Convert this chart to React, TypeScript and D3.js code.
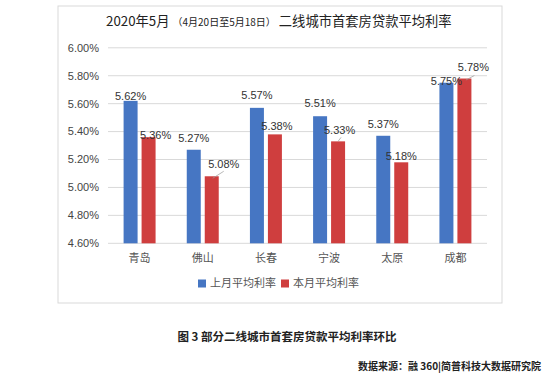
import React from "react";
import * as d3 from "d3";

const categories = ["青岛", "佛山", "长春", "宁波", "太原", "成都"];
const seriesNames = ["上月平均利率", "本月平均利率"];
const prevMonth = [5.62, 5.27, 5.57, 5.51, 5.37, 5.75];
const thisMonth = [5.36, 5.08, 5.38, 5.33, 5.18, 5.78];
const yTicks = [4.6, 4.8, 5.0, 5.2, 5.4, 5.6, 5.8, 6.0];

// label placement tweaks (layout only)
const prevLabelOffset = [[0, -5], [0, -12], [0, -13], [0, -13], [0, -12], [0, -2]];
const thisLabelOffset = [[7, -2], [12, -12], [2, -8], [1.5, -11], [0, -6], [9, -11]];
// leader line [startDx, startDy, endDx, endDy] relative to bar top centre
const thisLeader: (number[] | null)[] = [null, [1, 2, 12, -5], null, [0, 0, 3, -4], null, [1.5, 1.5, 10, -3]];

const W = 550, H = 387;
const colors = ["#4676C3", "#CF3E3E"];
const sans = "'Liberation Sans', Arial, 'Noto Sans CJK SC', sans-serif";
const cjk = "'Noto Sans CJK SC', 'Liberation Sans', sans-serif";

export default function App() {
  const x0 = d3.scaleBand<string>().domain(categories).range([108, 487]);
  const x1 = d3.scaleBand<string>().domain(seriesNames).range([0, x0.bandwidth()]).paddingInner(0.222).paddingOuter(0.867);
  const y = d3.scaleLinear().domain([4.6, 6.0]).range([243.3, 47.8]);
  const seriesVals = [prevMonth, thisMonth];
  const offs = [prevLabelOffset, thisLabelOffset];
  const fmt = (v: number) => v.toFixed(2) + "%";

  return (
    <svg width={W} height={H} style={{ position: "absolute", left: 0, top: 0, background: "#fff" }}>
      <rect x={58} y={6} width={444} height={297} fill="#fff" stroke="#d9d9d9" strokeWidth={1} />
      <text x={106} y={26} fontFamily={cjk} fill="#222">
        <tspan fontSize={13.3}>2020年5月</tspan>
        <tspan fontSize={10} dx={3}>（4月20日至5月18日）</tspan>
        <tspan fontSize={13.3} dx={3}>二线城市首套房贷款平均利率</tspan>
      </text>
      {yTicks.map((t) => (
        <g key={t}>
          <line x1={108} x2={487} y1={y(t)} y2={y(t)} stroke="#d9d9d9" strokeWidth={1} />
          <text x={99} y={y(t)} dy="0.35em" textAnchor="end" fontFamily={sans} fontSize={11} fill="#444">
            {fmt(t)}
          </text>
        </g>
      ))}
      {categories.map((c, i) => (
        <g key={c} transform={`translate(${x0(c)},0)`}>
          {seriesNames.map((s, j) => {
            const v = seriesVals[j][i];
            return (
              <rect key={s} x={x1(s)} y={y(v)} width={x1.bandwidth()} height={y(4.6) - y(v)} fill={colors[j]} />
            );
          })}
        </g>
      ))}
      {categories.map((c, i) =>
        seriesNames.map((s, j) => {
          const v = seriesVals[j][i];
          const bx = (x0(c) as number) + (x1(s) as number) + x1.bandwidth() / 2;
          const by = y(v);
          const [dx, dy] = offs[j][i];
          const lx = bx + dx, ly = by + dy;
          const ld = j === 1 ? thisLeader[i] : null;
          return (
            <g key={c + s}>
              {ld && (
                <line x1={bx + ld[0]} y1={by + ld[1]} x2={bx + ld[2]} y2={by + ld[3]} stroke="#999" strokeWidth={0.7} />
              )}
              <text x={lx} y={ly} dy="0.35em" textAnchor="middle" fontFamily={sans} fontSize={11} fill="#333">
                {fmt(v)}
              </text>
            </g>
          );
        })
      )}
      {categories.map((c) => (
        <text key={c} x={(x0(c) as number) + x0.bandwidth() / 2} y={258} dy="0.35em" textAnchor="middle" fontFamily={cjk} fontSize={11} fill="#555">
          {c}
        </text>
      ))}
      {seriesNames.map((s, j) => {
        const lx = [198, 281][j];
        return (
          <g key={s}>
            <rect x={lx} y={279.5} width={8} height={8} fill={colors[j]} />
            <text x={lx + 12} y={283.5} dy="0.35em" fontFamily={cjk} fontSize={11} fill="#555">
              {s}
            </text>
          </g>
        );
      })}
      <text x={287} y={337} dy="0.35em" textAnchor="middle" fontFamily={cjk} fontSize={11.5} fontWeight="bold" fill="#222">
        图 3 部分二线城市首套房贷款平均利率环比
      </text>
      <text x={541} y={366} dy="0.35em" textAnchor="end" fontFamily={cjk} fontSize={10} fontWeight="bold" fill="#222">
        数据来源：融 360|简普科技大数据研究院
      </text>
    </svg>
  );
}
